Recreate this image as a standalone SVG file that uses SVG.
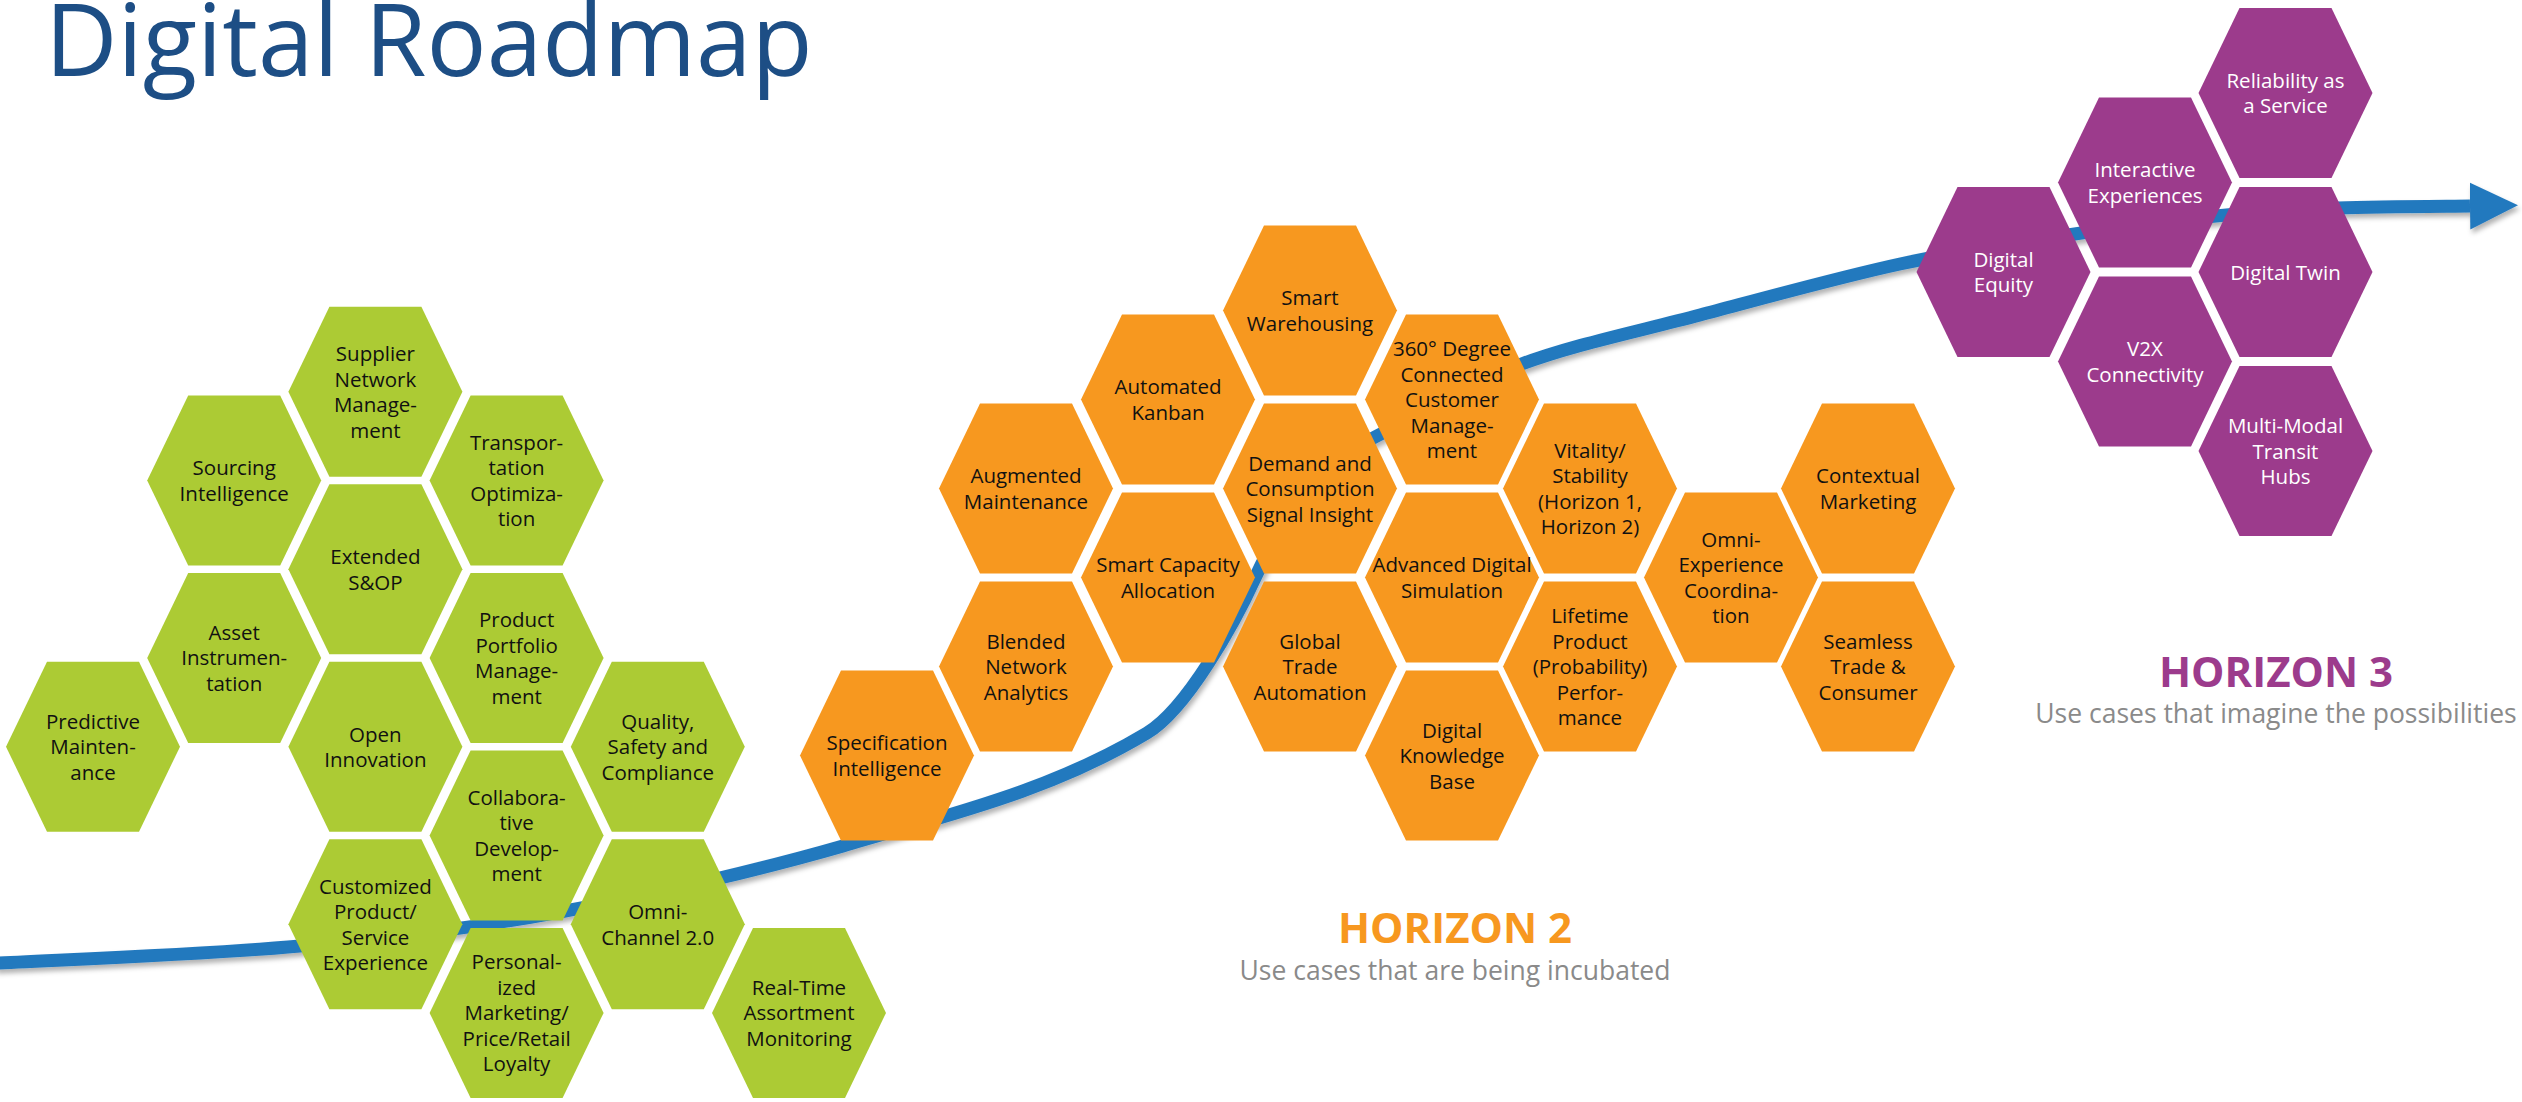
<svg xmlns="http://www.w3.org/2000/svg" xmlns:xlink="http://www.w3.org/1999/xlink" width="2522" height="1102" viewBox="0 0 2522 1102">
<defs>
<style>
.hg{fill:#ACCB34}
.ho{fill:#F7981F}
.hp{fill:#9C3B8C}
.t{font-family:'Open Sans','Liberation Sans',sans-serif;font-size:20.5px;text-anchor:middle;fill:#111}
.tw{fill:#ffffff}
.title{font-family:'Open Sans','Liberation Sans',sans-serif;font-size:100px;fill:#1D4E85}
.hz{font-family:'Open Sans','Liberation Sans',sans-serif;font-size:42px;font-weight:bold;text-anchor:middle}
.sub{font-family:'Open Sans','Liberation Sans',sans-serif;font-size:26.5px;text-anchor:middle;fill:#8A8A8A}
.road{fill:none;stroke:#2479BE;stroke-width:13}
</style>
<polygon id="hex" points="-87,0 -46,-85 46,-85 87,0 46,85 -46,85"/>
<marker id="head" markerUnits="userSpaceOnUse" markerWidth="50" markerHeight="50" refX="0" refY="23.5" orient="auto">
<path d="M0,0 L48,23.5 L0,47 Z" fill="#2479BE"/>
</marker>
<filter id="shadow" x="-5%" y="-20%" width="110%" height="140%">
<feDropShadow dx="2" dy="4" stdDeviation="2.5" flood-color="#000" flood-opacity="0.3"/>
</filter>
</defs>
<rect width="2522" height="1102" fill="#ffffff"/>
<text class="title" x="45" y="76">Digital Roadmap</text>

<g id="connectors">
<path class="road" filter="url(#shadow)" marker-end="url(#head)" d="M -5 963.3 C 50 960.2, 206.7 954.5, 300 946 C 393.3 937.5, 469.5 928.7, 560 912 C 650.5 895.3, 759.7 870, 843 846 C 943 816, 1047 793, 1147 733 C 1187 709, 1235 622, 1255 578 C 1280 523, 1325 462, 1375 437 C 1423 413, 1464.8 385.3, 1519 365 C 1573.2 344.7, 1636.5 331.8, 1700 315 C 1763.5 298.2, 1838.7 277.3, 1900 264 C 1961.3 250.7, 2015.3 243, 2068 235 C 2120.7 227, 2171 220.5, 2216 216 C 2261 211.5, 2295.7 209.7, 2338 208 C 2380.3 206.3, 2448 206.3, 2470 206"/>
</g>

<!-- Horizon 1 (green) -->
<g id="predictive-maintenance"><use href="#hex" x="93" y="746.7" class="hg"/><text class="t" x="93" y="728.7"><tspan x="93">Predictive</tspan><tspan x="93" dy="25.5">Mainten-</tspan><tspan x="93" dy="25.5">ance</tspan></text></g>
<g id="sourcing-intelligence"><use href="#hex" x="234.2" y="480.4" class="hg"/><text class="t" x="234.2" y="475.2"><tspan x="234.2">Sourcing</tspan><tspan x="234.2" dy="25.5">Intelligence</tspan></text></g>
<g id="asset-instrumentation"><use href="#hex" x="234.2" y="657.9" class="hg"/><text class="t" x="234.2" y="639.9"><tspan x="234.2">Asset</tspan><tspan x="234.2" dy="25.5">Instrumen-</tspan><tspan x="234.2" dy="25.5">tation</tspan></text></g>
<g id="supplier-network"><use href="#hex" x="375.4" y="391.7" class="hg"/><text class="t" x="375.4" y="361"><tspan x="375.4">Supplier</tspan><tspan x="375.4" dy="25.5">Network</tspan><tspan x="375.4" dy="25.5">Manage-</tspan><tspan x="375.4" dy="25.5">ment</tspan></text></g>
<g id="extended-sop"><use href="#hex" x="375.4" y="569.2" class="hg"/><text class="t" x="375.4" y="564"><tspan x="375.4">Extended</tspan><tspan x="375.4" dy="25.5">S&amp;OP</tspan></text></g>
<g id="open-innovation"><use href="#hex" x="375.4" y="746.7" class="hg"/><text class="t" x="375.4" y="741.5"><tspan x="375.4">Open</tspan><tspan x="375.4" dy="25.5">Innovation</tspan></text></g>
<g id="customized-product"><use href="#hex" x="375.4" y="924.2" class="hg"/><text class="t" x="375.4" y="893.5"><tspan x="375.4">Customized</tspan><tspan x="375.4" dy="25.5">Product/</tspan><tspan x="375.4" dy="25.5">Service</tspan><tspan x="375.4" dy="25.5">Experience</tspan></text></g>
<g id="transportation-optimization"><use href="#hex" x="516.6" y="480.4" class="hg"/><text class="t" x="516.6" y="449.7"><tspan x="516.6">Transpor-</tspan><tspan x="516.6" dy="25.5">tation</tspan><tspan x="516.6" dy="25.5">Optimiza-</tspan><tspan x="516.6" dy="25.5">tion</tspan></text></g>
<g id="product-portfolio"><use href="#hex" x="516.6" y="657.9" class="hg"/><text class="t" x="516.6" y="627.2"><tspan x="516.6">Product</tspan><tspan x="516.6" dy="25.5">Portfolio</tspan><tspan x="516.6" dy="25.5">Manage-</tspan><tspan x="516.6" dy="25.5">ment</tspan></text></g>
<g id="collaborative-development"><use href="#hex" x="516.6" y="835.4" class="hg"/><text class="t" x="516.6" y="804.7"><tspan x="516.6">Collabora-</tspan><tspan x="516.6" dy="25.5">tive</tspan><tspan x="516.6" dy="25.5">Develop-</tspan><tspan x="516.6" dy="25.5">ment</tspan></text></g>
<g id="personalized-marketing"><use href="#hex" x="516.6" y="1012.9" class="hg"/><text class="t" x="516.6" y="969.4"><tspan x="516.6">Personal-</tspan><tspan x="516.6" dy="25.5">ized</tspan><tspan x="516.6" dy="25.5">Marketing/</tspan><tspan x="516.6" dy="25.5">Price/Retail</tspan><tspan x="516.6" dy="25.5">Loyalty</tspan></text></g>
<g id="quality-safety"><use href="#hex" x="657.8" y="746.7" class="hg"/><text class="t" x="657.8" y="728.7"><tspan x="657.8">Quality,</tspan><tspan x="657.8" dy="25.5">Safety and</tspan><tspan x="657.8" dy="25.5">Compliance</tspan></text></g>
<g id="omni-channel"><use href="#hex" x="657.8" y="924.2" class="hg"/><text class="t" x="657.8" y="919"><tspan x="657.8">Omni-</tspan><tspan x="657.8" dy="25.5">Channel 2.0</tspan></text></g>
<g id="real-time-assortment"><use href="#hex" x="799" y="1012.9" class="hg"/><text class="t" x="799" y="994.9"><tspan x="799">Real-Time</tspan><tspan x="799" dy="25.5">Assortment</tspan><tspan x="799" dy="25.5">Monitoring</tspan></text></g>

<!-- Horizon 2 (orange) -->
<g id="specification-intelligence"><use href="#hex" x="887" y="755.5" class="ho"/><text class="t" x="887" y="750.3"><tspan x="887">Specification</tspan><tspan x="887" dy="25.5">Intelligence</tspan></text></g>
<g id="augmented-maintenance"><use href="#hex" x="1026" y="488.5" class="ho"/><text class="t" x="1026" y="483.3"><tspan x="1026">Augmented</tspan><tspan x="1026" dy="25.5">Maintenance</tspan></text></g>
<g id="blended-network"><use href="#hex" x="1026" y="666.5" class="ho"/><text class="t" x="1026" y="648.5"><tspan x="1026">Blended</tspan><tspan x="1026" dy="25.5">Network</tspan><tspan x="1026" dy="25.5">Analytics</tspan></text></g>
<g id="automated-kanban"><use href="#hex" x="1168" y="399.5" class="ho"/><text class="t" x="1168" y="394.3"><tspan x="1168">Automated</tspan><tspan x="1168" dy="25.5">Kanban</tspan></text></g>
<g id="smart-capacity"><use href="#hex" x="1168" y="577.5" class="ho"/><text class="t" x="1168" y="572.3"><tspan x="1168">Smart Capacity</tspan><tspan x="1168" dy="25.5">Allocation</tspan></text></g>
<g id="smart-warehousing"><use href="#hex" x="1310" y="310.5" class="ho"/><text class="t" x="1310" y="305.3"><tspan x="1310">Smart</tspan><tspan x="1310" dy="25.5">Warehousing</tspan></text></g>
<g id="demand-consumption"><use href="#hex" x="1310" y="488.5" class="ho"/><text class="t" x="1310" y="470.5"><tspan x="1310">Demand and</tspan><tspan x="1310" dy="25.5">Consumption</tspan><tspan x="1310" dy="25.5">Signal Insight</tspan></text></g>
<g id="global-trade"><use href="#hex" x="1310" y="666.5" class="ho"/><text class="t" x="1310" y="648.5"><tspan x="1310">Global</tspan><tspan x="1310" dy="25.5">Trade</tspan><tspan x="1310" dy="25.5">Automation</tspan></text></g>
<g id="connected-customer"><use href="#hex" x="1452" y="399.5" class="ho"/><text class="t" x="1452" y="356"><tspan x="1452">360° Degree</tspan><tspan x="1452" dy="25.5">Connected</tspan><tspan x="1452" dy="25.5">Customer</tspan><tspan x="1452" dy="25.5">Manage-</tspan><tspan x="1452" dy="25.5">ment</tspan></text></g>
<g id="advanced-simulation"><use href="#hex" x="1452" y="577.5" class="ho"/><text class="t" x="1452" y="572.3"><tspan x="1452">Advanced Digital</tspan><tspan x="1452" dy="25.5">Simulation</tspan></text></g>
<g id="digital-knowledge"><use href="#hex" x="1452" y="755.5" class="ho"/><text class="t" x="1452" y="737.5"><tspan x="1452">Digital</tspan><tspan x="1452" dy="25.5">Knowledge</tspan><tspan x="1452" dy="25.5">Base</tspan></text></g>
<g id="vitality-stability"><use href="#hex" x="1590" y="488.5" class="ho"/><text class="t" x="1590" y="457.8"><tspan x="1590">Vitality/</tspan><tspan x="1590" dy="25.5">Stability</tspan><tspan x="1590" dy="25.5">(Horizon 1,</tspan><tspan x="1590" dy="25.5">Horizon 2)</tspan></text></g>
<g id="lifetime-product"><use href="#hex" x="1590" y="666.5" class="ho"/><text class="t" x="1590" y="623"><tspan x="1590">Lifetime</tspan><tspan x="1590" dy="25.5">Product</tspan><tspan x="1590" dy="25.5">(Probability)</tspan><tspan x="1590" dy="25.5">Perfor-</tspan><tspan x="1590" dy="25.5">mance</tspan></text></g>
<g id="omni-experience"><use href="#hex" x="1731" y="577.5" class="ho"/><text class="t" x="1731" y="546.8"><tspan x="1731">Omni-</tspan><tspan x="1731" dy="25.5">Experience</tspan><tspan x="1731" dy="25.5">Coordina-</tspan><tspan x="1731" dy="25.5">tion</tspan></text></g>
<g id="contextual-marketing"><use href="#hex" x="1868" y="488.5" class="ho"/><text class="t" x="1868" y="483.3"><tspan x="1868">Contextual</tspan><tspan x="1868" dy="25.5">Marketing</tspan></text></g>
<g id="seamless-trade"><use href="#hex" x="1868" y="666.5" class="ho"/><text class="t" x="1868" y="648.5"><tspan x="1868">Seamless</tspan><tspan x="1868" dy="25.5">Trade &amp;</tspan><tspan x="1868" dy="25.5">Consumer</tspan></text></g>

<!-- Horizon 3 (purple) -->
<g id="digital-equity"><use href="#hex" x="2003.5" y="272" class="hp"/><text class="t tw" x="2003.5" y="266.8"><tspan x="2003.5">Digital</tspan><tspan x="2003.5" dy="25.5">Equity</tspan></text></g>
<g id="interactive-experiences"><use href="#hex" x="2145" y="182.5" class="hp"/><text class="t tw" x="2145" y="177.3"><tspan x="2145">Interactive</tspan><tspan x="2145" dy="25.5">Experiences</tspan></text></g>
<g id="v2x-connectivity"><use href="#hex" x="2145" y="361.5" class="hp"/><text class="t tw" x="2145" y="356.3"><tspan x="2145">V2X</tspan><tspan x="2145" dy="25.5">Connectivity</tspan></text></g>
<g id="reliability-service"><use href="#hex" x="2285.5" y="93" class="hp"/><text class="t tw" x="2285.5" y="87.8"><tspan x="2285.5">Reliability as</tspan><tspan x="2285.5" dy="25.5">a Service</tspan></text></g>
<g id="digital-twin"><use href="#hex" x="2285.5" y="272" class="hp"/><text class="t tw" x="2285.5" y="279.5">Digital Twin</text></g>
<g id="multi-modal"><use href="#hex" x="2285.5" y="451" class="hp"/><text class="t tw" x="2285.5" y="433"><tspan x="2285.5">Multi-Modal</tspan><tspan x="2285.5" dy="25.5">Transit</tspan><tspan x="2285.5" dy="25.5">Hubs</tspan></text></g>

<g id="horizon-2-label">
<text class="hz" x="1455" y="943" fill="#F7981F">HORIZON 2</text>
<text class="sub" x="1455" y="980">Use cases that are being incubated</text>
</g>
<g id="horizon-3-label">
<text class="hz" x="2276" y="687" fill="#9C3B8C">HORIZON 3</text>
<text class="sub" x="2276" y="723">Use cases that imagine the possibilities</text>
</g>
</svg>
